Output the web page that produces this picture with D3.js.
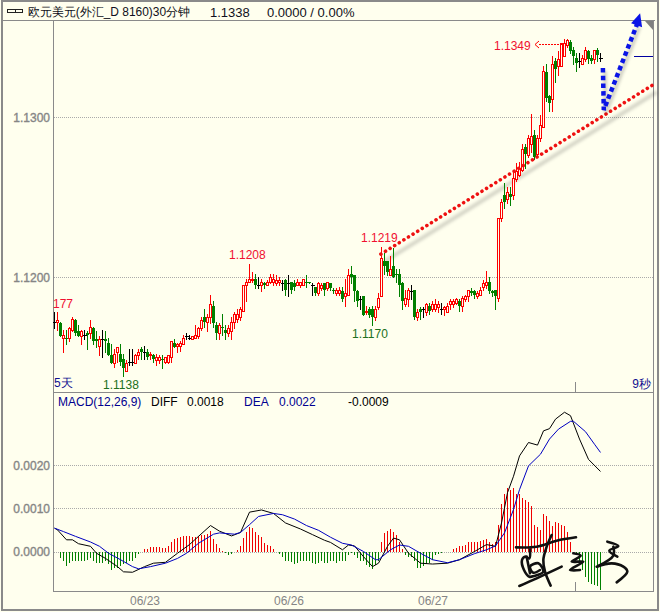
<!DOCTYPE html>
<html><head><meta charset="utf-8">
<style>html,body{margin:0;padding:0;background:#ffffee;overflow:hidden}svg{display:block}text{font-family:"Liberation Sans",Arial,sans-serif}</style>
<script src="https://cdn.jsdelivr.net/npm/d3@7"></script></head><body>
<script>
// Prices: last three digits of price x 10^4 (e.g. 172 = 1.1172)
const priceBase=11000;
const opens=[172,172,171,162,162,162,167,173,166,163,
164,165,165,168,161,157,161,161,159,151,
146,153,152,149,141,147,147,146,151,155,
153,153,151,151,148,148,149,147,147,150,
159,157,157,158,163,162,161,162,163,168,
175,172,175,182,170,165,169,167,165,166,
172,174,175,179,195,197,198,199,195,195,
196,195,197,197,196,197,196,198,196,197,
196,195,195,195,197,197,195,194,190,193,
196,193,196,192,190,190,191,188,189,202,
201,191,186,188,178,180,180,175,181,188,
210,210,201,207,202,202,196,183,186,191,
192,175,180,180,178,182,180,180,181,180,
180,178,183,183,184,185,182,186,188,191,
191,188,189,194,195,197,191,192,187,237,
251,249,252,251,261,264,267,281,276,283,
289,277,287,294,328,313,311,335,332,332,
338,345,347,342,337,335,333,336,341,337,
336,342,337];
const closes=[172,173,163,164,161,168,174,165,163,166,
164,164,169,160,160,161,161,160,151,146,
152,156,147,143,146,147,147,151,153,153,
153,150,152,149,150,150,148,150,151,160,
156,158,159,162,163,162,163,164,168,173,
172,175,183,171,165,170,168,165,168,172,
177,177,180,195,197,199,199,195,195,197,
195,197,200,199,198,198,196,192,196,192,
194,197,197,199,196,196,195,190,196,195,
192,197,193,191,192,192,186,190,201,200,
191,185,186,176,179,176,175,180,187,212,
207,203,205,200,201,195,185,187,192,191,
175,178,178,180,183,179,183,183,183,180,
181,182,185,185,186,182,187,188,192,190,
189,190,192,196,197,191,190,188,237,247,
247,253,250,262,266,268,280,277,287,288,
275,287,295,329,312,309,333,330,336,346,
346,348,341,338,334,335,337,342,336,335,
342,339,337];
const highs=[178,178,172,167,167,169,175,174,170,167,
167,166,173,169,166,163,167,166,162,158,
155,156,158,152,148,155,155,152,155,156,
157,155,153,152,152,151,151,150,151,160,
161,159,160,164,165,164,163,170,169,175,
180,177,189,185,172,171,177,170,170,175,
178,180,181,195,199,208,203,202,200,199,
197,198,202,202,201,200,198,199,201,197,
198,199,197,199,201,197,196,194,197,196,
196,197,196,193,193,194,194,199,205,207,
201,192,188,188,182,181,182,182,190,219,
215,210,213,218,205,205,197,192,193,195,
192,180,181,181,184,184,185,186,185,184,
182,184,186,186,187,186,188,189,192,193,
192,191,194,198,204,200,192,192,237,249,
259,256,256,266,271,272,283,283,289,302,
292,289,301,332,333,314,338,337,341,346,
349,349,348,344,340,340,339,344,342,339,
342,343,340];
const lows=[168,167,163,153,158,160,166,164,163,158,
161,155,162,158,156,151,150,153,151,146,
144,147,145,138,141,145,145,146,149,149,
149,149,149,147,145,146,143,146,146,147,
156,153,154,158,161,161,161,162,162,167,
169,166,171,169,161,161,164,161,163,161,
168,172,173,179,185,197,197,193,193,191,
193,195,196,195,195,195,192,189,188,190,
192,195,194,195,194,196,189,189,189,192,
189,192,192,190,189,189,185,182,189,196,
185,182,180,176,177,175,170,173,180,188,
202,201,201,200,197,188,180,182,182,186,
174,173,174,175,176,177,179,179,178,177,
176,178,180,181,183,179,179,185,185,189,
187,187,189,192,193,190,188,180,185,235,
243,246,245,249,260,263,266,268,275,278,
274,276,285,294,310,304,304,322,326,332,
338,344,340,333,329,331,333,335,334,334,
334,335,335];
// MACD values in units of 0.00001
const macdHist=[0,-2,-14,-23,-33,-27,-22,-23,-23,-23,
-23,-19,-16,-22,-27,-26,-26,-23,-29,-43,
-37,-39,-33,-29,-27,-23,-23,-16,-6,-2,
5,6,11,11,11,11,9,9,12,23,
28,31,33,35,36,35,33,33,35,37,
39,40,48,29,18,9,2,-4,-8,-6,
0,4,12,31,46,56,54,46,37,33,
19,16,12,6,0,-6,-12,-22,-23,-25,
-29,-26,-23,-23,-23,-22,-26,-29,-26,-23,
-26,-26,-23,-23,-27,-23,-23,-23,-8,-4,
-8,-16,-23,-23,-31,-35,-40,-31,-23,22,
43,48,52,46,37,23,6,-9,-12,-12,
-23,-37,-39,-33,-29,-27,-19,-9,-6,-4,
-2,-1,0,6,8,12,12,16,22,23,
23,22,25,27,29,23,17,23,62,109,
132,146,143,146,132,133,124,120,115,105,
62,56,50,87,81,70,60,68,66,62,
58,45,23,0,-8,-23,-43,-58,-70,-74,
-78,-80,-88];
const diffBars=[0,1,4,6,8,12,14,17,21,23,26,30,33,37,41,45,48,52,55,59,62,65,69,73,77,82,86,90,92,96,98,100,103,106,108,111,113,115,118,122,126,131,135,140,144,147,149,151,153,155,158,161,163,165,167,170,172,175,178,182];
const diffVals=[54,50,27,27,18,12,-4,-16,-35,-47,-48,-35,-27,-25,-4,16,35,60,47,36,44,91,96,88,66,52,39,26,21,4,15,13,-12,-35,-27,12,31,27,-4,-27,-29,-27,-19,0,16,12,66,136,174,221,252,246,279,284,306,322,314,260,213,185];
const deaBars=[0,3,7,12,15,18,22,26,28,32,37,41,44,48,53,55,60,62,65,68,73,76,80,84,88,92,96,99,103,107,108,112,115,118,122,126,131,135,140,144,147,150,153,155,158,162,165,168,172,173,177,180,182];
const deaVals=[54,46,35,22,12,-4,-19,-35,-40,-35,-27,-16,-4,19,40,43,40,44,62,81,88,85,75,60,49,33,19,15,0,-19,-19,4,15,12,-4,-19,-26,-19,-5,4,13,43,97,143,198,225,260,283,301,301,277,248,229];
const priceTicks=[200,300], macdTicks=[0,100,200];
const dateBars=[30,78,126], dateLabels=["06/23","06/26","06/27"];
// Annotations in chart coordinates: bar index, price code
const redTrendBars=[108.8,199.4], redTrendPrices=[214.3,320];
const blueBars=[182.8,183.1,194.2], bluePrices=[330.6,304.4,358];
const lastPrice=338;

const W=660,H=612;
const svg=d3.select("body").append("svg").attr("width",W).attr("height",H);
const bg="#ffffee";
const x=d3.scaleLinear().domain([0,182]).range([54.5,600.5]);
const yP=d3.scaleLinear().domain([200,300]).range([277,117]);
const yM=d3.scaleLinear().domain([0,200]).range([551.5,465]);
const fmtP=v=>((priceBase+v)/10000).toFixed(4);
const fmtM=v=>(v/100000).toFixed(4);
const gray="#858585";

svg.append("rect").attr("width",W).attr("height",H).attr("fill",bg);
const defs=svg.append("defs");
defs.append("filter").attr("id","blur").attr("x","-20%").attr("y","-20%").attr("width","140%").attr("height","140%")
  .append("feGaussianBlur").attr("stdDeviation",1.8);

// frames
const fr=svg.append("g").attr("fill","none").attr("stroke","#8a8a8a").attr("shape-rendering","crispEdges");
fr.append("rect").attr("x",2).attr("y",1).attr("width",655.5).attr("height",609).attr("stroke-width",2);
fr.append("line").attr("x1",2).attr("x2",655).attr("y1",20.5).attr("y2",20.5).attr("stroke-width",1.5);
fr.append("line").attr("x1",53.5).attr("x2",53.5).attr("y1",20).attr("y2",591);
fr.append("line").attr("x1",653.5).attr("x2",653.5).attr("y1",20).attr("y2",591);
fr.append("line").attr("x1",53).attr("x2",654).attr("y1",392.5).attr("y2",392.5);
fr.append("line").attr("x1",53).attr("x2",654).attr("y1",591.5).attr("y2",591.5);
fr.append("line").attr("x1",575.5).attr("x2",575.5).attr("y1",382).attr("y2",392);
fr.append("line").attr("x1",575.5).attr("x2",575.5).attr("y1",582).attr("y2",591);

// grid + axes
const grid=svg.append("g").attr("stroke","#aaa").attr("stroke-dasharray","1 1").attr("shape-rendering","crispEdges");
priceTicks.forEach(t=>grid.append("line").attr("x1",54).attr("x2",653).attr("y1",Math.round(yP(t))+.5).attr("y2",Math.round(yP(t))+.5));
macdTicks.forEach(t=>grid.append("line").attr("x1",54).attr("x2",653).attr("y1",Math.round(yM(t))+.5).attr("y2",Math.round(yM(t))+.5));
const ticks=svg.append("g").attr("fill",gray).attr("font-size",12).attr("text-anchor","end").attr("stroke",gray).attr("stroke-width",.35);
priceTicks.forEach(t=>ticks.append("text").attr("x",50).attr("y",yP(t)+4.5).text(fmtP(t)));
macdTicks.forEach(t=>ticks.append("text").attr("x",50).attr("y",yM(t)+4.5).text(fmtM(t)));
const dates=svg.append("g").attr("fill",gray).attr("font-size",12).attr("text-anchor","middle");
dateBars.forEach((b,i)=>dates.append("text").attr("x",x(b)+.5).attr("y",605).text(dateLabels[i]));

// shadows
const lineOf=(bars,vals,off)=>bars.map((b,i)=>[x(b)+off[0],yP(vals[i])+off[1]]);
svg.append("path").attr("d",d3.line()(lineOf(redTrendBars,redTrendPrices,[4,7]))).attr("stroke","#000").attr("stroke-opacity",.16)
  .attr("stroke-width",4).attr("fill","none").attr("filter","url(#blur)");

// histogram
const hist=svg.append("g").attr("shape-rendering","crispEdges");
hist.selectAll("line").data(macdHist).join("line")
  .attr("x1",(d,i)=>Math.floor(x(i))+.5).attr("x2",(d,i)=>Math.floor(x(i))+.5)
  .attr("y1",yM(0)).attr("y2",d=>yM(d)).attr("stroke",d=>d>=0?"#f00000":"#008000");

// macd lines
const ml=d3.line().x(d=>x(d[0])).y(d=>yM(d[1]));
svg.append("path").attr("d",ml(diffBars.map((b,i)=>[b,diffVals[i]]))).attr("fill","none").attr("stroke","#000");
svg.append("path").attr("d",ml(deaBars.map((b,i)=>[b,deaVals[i]]))).attr("fill","none").attr("stroke","#0000c0");

// candles
const cg=svg.append("g").attr("shape-rendering","crispEdges");
opens.forEach((o,i)=>{
  const c=closes[i],col=c>o?"#ff0000":c<o?"#008000":"#000";
  const cx=Math.floor(x(i))+.5;
  cg.append("line").attr("x1",cx).attr("x2",cx).attr("y1",yP(highs[i])).attr("y2",yP(lows[i])+1).attr("stroke",col);
  if(c===o){cg.append("line").attr("x1",cx-1.5).attr("x2",cx+2.5).attr("y1",Math.round(yP(o))+.5).attr("y2",Math.round(yP(o))+.5).attr("stroke",col);}
  else{
    const t=Math.round(yP(Math.max(o,c))),b=Math.round(yP(Math.min(o,c)));
    if(c>o) cg.append("rect").attr("x",cx-1).attr("y",t+.5).attr("width",2).attr("height",Math.max(b-t,1)).attr("fill",bg).attr("stroke",col);
    else cg.append("rect").attr("x",cx-1.5).attr("y",t).attr("width",3).attr("height",Math.max(b-t,1)).attr("fill",col);
  }
});

// trend lines
svg.append("path").attr("d",d3.line()(lineOf(redTrendBars,redTrendPrices,[0,0]))).attr("stroke","#ee1111")
  .attr("stroke-width",3.6).attr("stroke-linecap","round").attr("stroke-dasharray","0.01 5.4").attr("fill","none");
svg.append("path").attr("d",d3.line()(lineOf(blueBars,bluePrices,[2,3]))).attr("stroke","#000").attr("stroke-opacity",.18)
  .attr("stroke-width",4).attr("fill","none").attr("filter","url(#blur)");
svg.append("path").attr("d",d3.line()(lineOf(blueBars,bluePrices,[0,0]))).attr("stroke","#0a14e6")
  .attr("stroke-width",4.5).attr("stroke-dasharray","4.5 3.2").attr("fill","none");
const tip=[x(blueBars[2]),yP(bluePrices[2])];
svg.append("path").attr("d",d3.line()([[tip[0]+3,tip[1]-11],[tip[0]-6,tip[1]-1],[tip[0]+5,tip[1]+3]])+"Z").attr("fill","#0a14e6");
svg.append("path").attr("d","M645,21L653,21L653,30Z").attr("fill","#808080");
svg.append("line").attr("x1",634).attr("x2",653).attr("y1",Math.round(yP(lastPrice))+.5).attr("y2",Math.round(yP(lastPrice))+.5).attr("stroke","#0000a0").attr("shape-rendering","crispEdges");

// price labels
const lab=(t,lx,ly,col)=>svg.append("text").attr("x",lx).attr("y",ly).attr("fill",col).attr("font-size",12).text(t);
lab("177",53,308,"#f01030");
lab("1.1208",229,259,"#f01030");
lab("1.1219",361,242,"#f01030");
lab("1.1349",494,50,"#f01030");
lab("1.1170",352,338,"#207020");
lab("1.1138",103,389,"#207020");
lab("5天",54,387,"#101090");
svg.append("text").attr("x",651).attr("y",388).attr("text-anchor","end").attr("fill","#101090").attr("font-size",12).text("9秒");
svg.append("line").attr("x1",539).attr("x2",562).attr("y1",44.5).attr("y2",44.5).attr("stroke","#f00").attr("stroke-dasharray","2 1").attr("shape-rendering","crispEdges");
svg.append("path").attr("d","M539,41L535,44.5L539,48").attr("fill","none").attr("stroke","#f00");

// header
const hd=svg.append("g").attr("font-size",13).attr("fill","#101020");
hd.append("rect").attr("x",7.5).attr("y",9.5).attr("width",8).attr("height",3).attr("fill","none").attr("stroke","#222").attr("shape-rendering","crispEdges");
hd.append("rect").attr("x",15.5).attr("y",9.5).attr("width",7).attr("height",3).attr("fill","none").attr("stroke","#222").attr("shape-rendering","crispEdges");
hd.append("text").attr("x",28).attr("y",16).attr("font-family",'"Noto Sans CJK SC",sans-serif').attr("font-size",12).attr("textLength",162).attr("lengthAdjust","spacingAndGlyphs").text("欧元美元(外汇_D 8160)30分钟");
hd.append("text").attr("x",210).attr("y",17).text("1.1338");
hd.append("text").attr("x",267).attr("y",17).text("0.0000 / 0.00%");

// macd legend
const lg=[["MACD(12,26,9)",58,"#000090"],["DIFF",151,"#000"],["0.0018",187,"#000"],["DEA",244,"#000090"],["0.0022",279,"#000090"],["-0.0009",348,"#000"]];
lg.forEach(d=>lab(d[0],d[1],406,d[2]));

// handwritten signature (decoration, drawn in page pixels)
const sigStrokes=[
 [[558,472],[620,470],[680,452],[738,442]],
 [[665,435],[650,470],[640,510],[645,545],[662,587]],
 [[568,588],[620,565],[695,530]],
 [[600,478],[598,505],[585,500],[576,510],[582,540],[598,560],[612,558],[640,545],[625,520],[600,530],[610,548],[630,540]],
 [[590,500],[600,550]],
 [[730,490],[752,497],[725,515],[760,515],[720,540],[750,540]],
 [[832,455],[865,468],[838,482],[862,500]],
 [[850,470],[850,497],[805,528]],
 [[800,530],[845,520],[880,530],[892,545],[860,577]]
];
const sig=d3.line().curve(d3.curveCatmullRom.alpha(0.5)).x(d=>330+d[0]/3).y(d=>390+d[1]/3);
svg.append("g").attr("fill","none").attr("stroke","#111").attr("stroke-width",2.6).attr("stroke-linecap","round").attr("stroke-linejoin","round")
  .selectAll("path").data(sigStrokes).join("path").attr("d",sig);
</script></body></html>
